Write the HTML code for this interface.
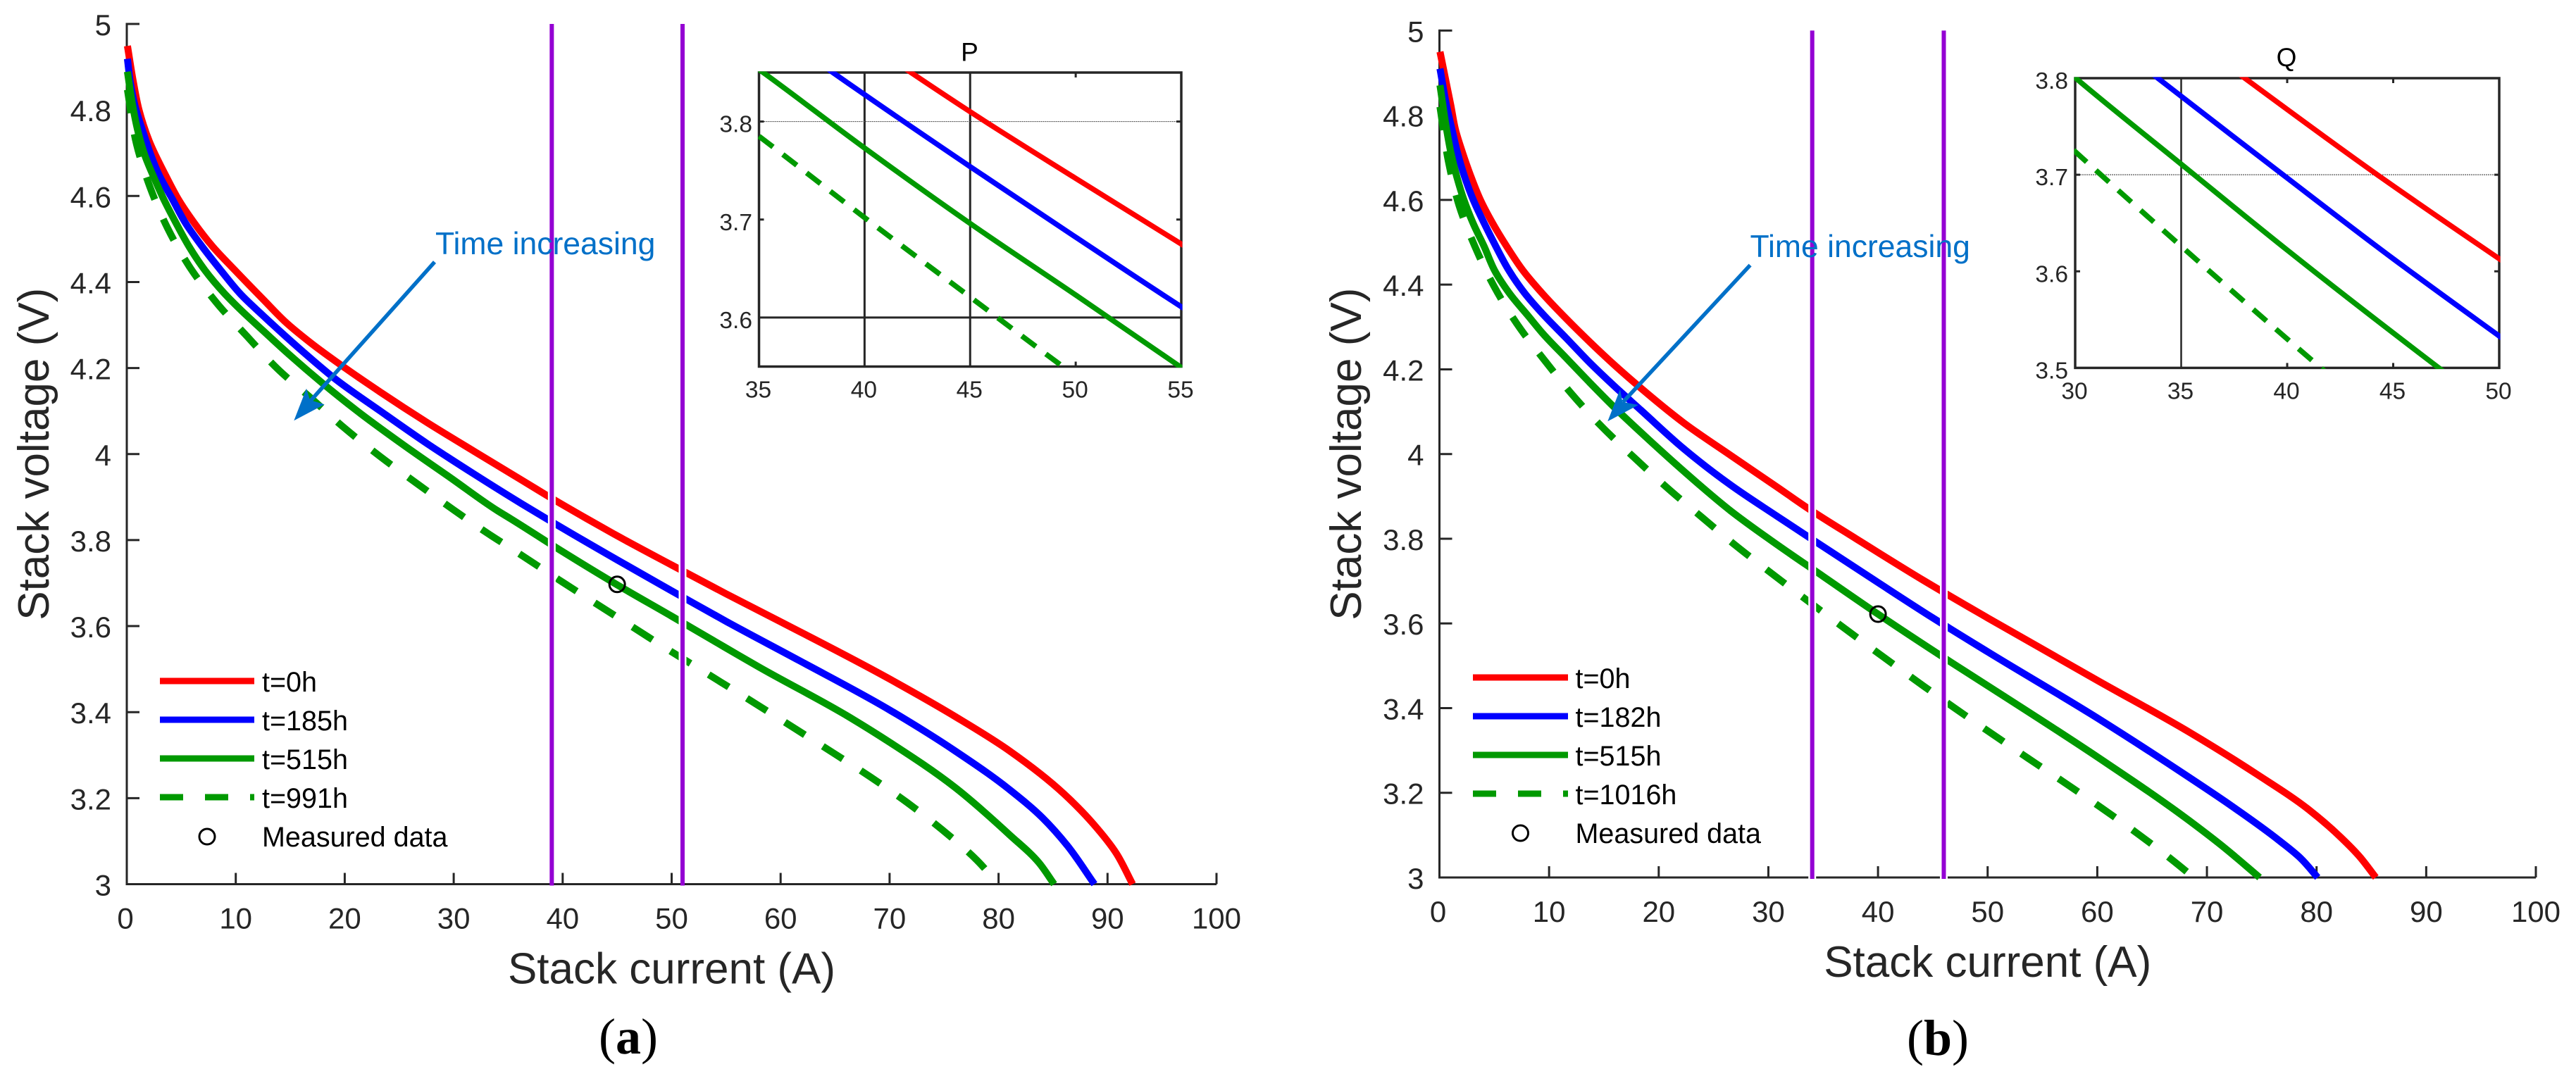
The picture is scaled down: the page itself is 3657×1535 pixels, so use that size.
<!DOCTYPE html>
<html lang="en">
<head>
<meta charset="utf-8">
<title>Stack voltage versus stack current over time</title>
<style>
html,body{margin:0;padding:0;background:#fff;}
svg{display:block;font-family:"Liberation Sans",Arial,sans-serif;}
</style>
</head>
<body>
<svg id="figure" xmlns="http://www.w3.org/2000/svg" width="3657" height="1535" viewBox="0 0 3657 1535">
  <rect x="0" y="0" width="3657" height="1535" fill="#fff"/>
  <g id="panel-a"></g>
  <g id="panel-b"></g>
  <text x="892" y="1496" text-anchor="middle" font-family="'Liberation Serif',serif" font-size="72" fill="#000">(<tspan font-weight="bold">a</tspan>)</text>
  <text x="2751" y="1498" text-anchor="middle" font-family="'Liberation Serif',serif" font-size="72" fill="#000">(<tspan font-weight="bold">b</tspan>)</text>
</svg>
<script>
// ---------- Shared axis data ----------
const mainXTicks = [0,10,20,30,40,50,60,70,80,90,100];
const mainYTicks = [3,3.2,3.4,3.6,3.8,4,4.2,4.4,4.6,4.8,5];
const mainYLabels = ['3','3.2','3.4','3.6','3.8','4','4.2','4.4','4.6','4.8','5'];

// ---------- Panel (a) data ----------
const labelsA = ['t=0h','t=185h','t=515h','t=991h'];
const currentA0 = [0.06,0.6,1.12,2.05,3.6,4.74,6.2,7.86,9.9,12.5,14.65,16.8,20.04,23.27,27.58,31.9,36.2,38.6,42.2,45,50,55,60,70,76,81,86,88.7,90.8,92.3];
const voltageA0 = [4.949,4.865,4.8,4.728,4.646,4.592,4.537,4.483,4.428,4.36,4.305,4.26,4.2,4.144,4.073,4.006,3.94,3.903,3.85,3.81,3.742,3.675,3.61,3.477,3.39,3.31,3.21,3.14,3.072,3.0];
const currentA1 = [0.06,0.32,0.75,1.4,3.02,4.2,5.39,6.9,8.6,10.4,12.5,14.65,16.8,18.96,23.27,27.58,31.9,36.2,38.5,45,50,55,61.7,70,76,81,84,86.3,88.8];
const voltageA1 = [4.919,4.865,4.81,4.756,4.646,4.592,4.537,4.483,4.428,4.373,4.322,4.272,4.224,4.178,4.1,4.024,3.953,3.885,3.85,3.754,3.682,3.611,3.52,3.405,3.31,3.22,3.155,3.09,3.0];
const currentA2 = [0.06,0.54,0.97,1.72,2.44,3.4,4.52,5.7,7.15,8.94,10.34,12.5,14.65,17.9,21.1,25.4,29.7,34.04,35.2,40,45,50,54.8,58,66.2,70,76,81,83.7,85.1];
const voltageA2 = [4.889,4.81,4.756,4.69,4.646,4.592,4.537,4.483,4.428,4.374,4.338,4.287,4.237,4.166,4.101,4.021,3.945,3.868,3.85,3.773,3.696,3.623,3.552,3.505,3.39,3.33,3.225,3.115,3.05,3.0];
const currentA3 = [0.06,0.9,2.11,3.73,5.77,8.23,11.1,13.8,17,20,23.27,26.6,29.95,33.4,35,40,45,49.2,54.5,57.8,61.3,64.9,68.2,71.6,74.8,78,80];
const voltageA3 = [4.847,4.72,4.622,4.526,4.435,4.352,4.272,4.199,4.128,4.06,3.994,3.932,3.871,3.811,3.785,3.702,3.621,3.553,3.47,3.418,3.362,3.304,3.25,3.19,3.127,3.056,3.0];
const measuredCurrentA = [45];
const measuredVoltageA = [3.697];
const markerCurrentsA = [39,51];
const insetXTicksA = [35,40,45,50,55];
const insetYTicksA = [3.6,3.7,3.8];
const insetYLabelsA = ['3.6','3.7','3.8'];
const insetSolidXA = [40,45];
const insetSolidYA = [3.6];
const insetFaintYA = [3.8];

// ---------- Panel (b) data ----------
const labelsB = ['t=0h','t=182h','t=515h','t=1016h'];
const currentB0 = [0.05,0.61,1.04,1.45,2.1,2.86,3.72,4.85,6.14,7.57,9.39,11.55,13.7,15.84,18.4,22.26,26.55,30.8,33.6,38,44.25,50,60.1,68.4,74.6,79.3,82.2,83.9,85.4];
const voltageB0 = [4.95,4.878,4.823,4.767,4.712,4.656,4.601,4.545,4.49,4.435,4.379,4.32,4.265,4.213,4.155,4.074,3.997,3.922,3.872,3.8,3.7,3.613,3.464,3.343,3.243,3.16,3.095,3.05,3.0];
const currentB1 = [0.05,0.65,1.14,1.64,2.28,3.07,4.08,5.15,6.3,7.8,9.41,11.55,13.7,15.84,18.4,22.26,26.55,30.8,33.9,39.8,45,50,60.1,68.4,72.3,76.6,78.6,80.1];
const voltageB1 = [4.91,4.823,4.767,4.712,4.656,4.601,4.545,4.49,4.435,4.379,4.331,4.274,4.216,4.163,4.103,4.013,3.927,3.853,3.8,3.7,3.613,3.533,3.375,3.236,3.168,3.087,3.044,3.0];
const currentB2 = [0.05,0.65,1.04,1.57,2.22,3.07,4.08,5,6.4,8.1,9.41,11.55,13.7,15.84,19.05,22.26,26.55,30.3,35,40,47.15,51.8,60.1,68.4,71.7,74.8];
const voltageB2 = [4.871,4.767,4.712,4.656,4.601,4.545,4.49,4.435,4.379,4.326,4.285,4.227,4.169,4.113,4.035,3.96,3.866,3.795,3.711,3.622,3.5,3.423,3.283,3.134,3.068,3.0];
const currentB3 = [0.05,0.82,1.79,3.22,4.96,7,9.84,12.09,14.87,17.83,20.87,23.97,26.97,30,35,40,41.8,47,53.6,56.9,60.4,63.6,66.9,68.8];
const voltageB3 = [4.82,4.691,4.587,4.491,4.397,4.31,4.213,4.141,4.063,3.99,3.918,3.85,3.785,3.724,3.626,3.53,3.496,3.4,3.283,3.226,3.164,3.105,3.04,3.0];
const measuredCurrentB = [40];
const measuredVoltageB = [3.622];
const markerCurrentsB = [34,46];
const insetXTicksB = [30,35,40,45,50];
const insetYTicksB = [3.5,3.6,3.7,3.8];
const insetYLabelsB = ['3.5','3.6','3.7','3.8'];
const insetSolidXB = [35];
const insetSolidYB = [];
const insetFaintYB = [3.7];

// ---------- Drawing ----------
const SVGNS = 'http://www.w3.org/2000/svg';
const AXIS = '#262626';
const PALETTE = ['#ff0000','#0000ff','#009900','#009900'];
const SERIES_NAMES = ['red','blue','green','green-dashed'];
const NOTE_BLUE = '#0070c8';

function mk(parent, tag, attrs, txt) {
  const el = document.createElementNS(SVGNS, tag);
  for (const k in attrs) el.setAttribute(k, attrs[k]);
  if (txt !== undefined) el.textContent = txt;
  parent.appendChild(el);
  return el;
}
function linearScale(d0, d1, r0, r1) {
  return v => r0 + (v - d0) * (r1 - r0) / (d1 - d0);
}
function smoothPath(xs, ys, sx, sy) {
  const p = xs.map((x, i) => [sx(x), sy(ys[i])]);
  const n = p.length;
  const h = [];
  for (let i = 0; i < n - 1; i++) h.push(Math.hypot(p[i+1][0] - p[i][0], p[i+1][1] - p[i][1]) || 1);
  const tan = p.map((q, i) => {
    if (i === 0) return [(p[1][0] - p[0][0]) / h[0], (p[1][1] - p[0][1]) / h[0]];
    if (i === n - 1) return [(p[i][0] - p[i-1][0]) / h[i-1], (p[i][1] - p[i-1][1]) / h[i-1]];
    const h0 = h[i-1], h1 = h[i], w = h0 + h1;
    return [
      ((p[i][0] - p[i-1][0]) * h1 / h0 + (p[i+1][0] - p[i][0]) * h0 / h1) / w,
      ((p[i][1] - p[i-1][1]) * h1 / h0 + (p[i+1][1] - p[i][1]) * h0 / h1) / w
    ];
  });
  let d = 'M' + p[0][0].toFixed(2) + ' ' + p[0][1].toFixed(2);
  for (let i = 0; i < n - 1; i++) {
    const s = h[i] / 3;
    const c1x = p[i][0] + tan[i][0] * s, c1y = p[i][1] + tan[i][1] * s;
    const c2x = p[i+1][0] - tan[i+1][0] * s, c2y = p[i+1][1] - tan[i+1][1] * s;
    d += 'C' + c1x.toFixed(2) + ' ' + c1y.toFixed(2) + ' ' + c2x.toFixed(2) + ' ' + c2y.toFixed(2) + ' ' + p[i+1][0].toFixed(2) + ' ' + p[i+1][1].toFixed(2);
  }
  return d;
}
function lengthAtX(path, targetX) {
  let lo = 0, hi = path.getTotalLength();
  for (let i = 0; i < 40; i++) {
    const mid = (lo + hi) / 2;
    if (path.getPointAtLength(mid).x < targetX) lo = mid; else hi = mid;
  }
  return lo;
}

function drawPanel(root, cfg) {
  const sx = linearScale(0, 100, cfg.x0, cfg.x100);
  const sy = linearScale(3, 5, cfg.y3, cfg.y5);

  // axes
  const axisX = mk(root, 'line', {x1: cfg.x0, x2: cfg.x100, y1: cfg.y3, y2: cfg.y3, stroke: AXIS, 'stroke-width': 3});
  
  
  const axisY = mk(root, 'line', {x1: cfg.x0, x2: cfg.x0, y1: cfg.y5 - 1.5, y2: cfg.y3 + 1.5, stroke: AXIS, 'stroke-width': 3});
  
  

  mainXTicks.forEach(t => {
    if (t > 0) {
      const tk = mk(root, 'line', {x1: sx(t), x2: sx(t), y1: cfg.y3, y2: cfg.y3 - 16, stroke: AXIS, 'stroke-width': 3});
      
      
    }
    const lb = mk(root, 'text', {x: sx(t) - (t === 0 ? 2 : 0), y: cfg.y3 + 63, 'text-anchor': 'middle', 'font-size': 42, fill: AXIS}, String(t));
    
    
  });
  mainYTicks.forEach((t, i) => {
    if (t > 3) {
      const tk = mk(root, 'line', {x1: cfg.x0, x2: cfg.x0 + 18, y1: sy(t), y2: sy(t), stroke: AXIS, 'stroke-width': 3});
      
      
    }
    const lb = mk(root, 'text', {x: cfg.x0 - 22, y: sy(t) + 16, 'text-anchor': 'end', 'font-size': 42, fill: AXIS}, mainYLabels[i]);
    
    
  });
  const xt = mk(root, 'text', {x: (cfg.x0 + cfg.x100) / 2, y: cfg.y3 + 141, 'text-anchor': 'middle', 'font-size': 62, fill: AXIS}, 'Stack current (A)');
  
  
  const ytY = (cfg.y5 + cfg.y3) / 2;
  const yt = mk(root, 'text', {x: cfg.yTitleX, y: ytY, 'text-anchor': 'middle', 'font-size': 62, fill: AXIS, transform: 'rotate(-90 ' + cfg.yTitleX + ' ' + ytY + ')'}, 'Stack voltage (V)');
  
  

  // main curves
  cfg.series.forEach((s, i) => {
    const attrs = {d: smoothPath(s.x, s.y, sx, sy), fill: 'none', stroke: PALETTE[i], 'stroke-width': 10, 'stroke-linejoin': 'round'};
    if (i === 3) { attrs['stroke-dasharray'] = '33.5 30.3'; attrs['stroke-dashoffset'] = cfg.dashOffset; }
    const c = mk(root, 'path', attrs);
    
    
  });

  // operating-range markers
  cfg.markers.forEach(m => {
    const halo = mk(root, 'line', {x1: sx(m), x2: sx(m), y1: cfg.y5, y2: cfg.y3 + cfg.haloExtra, stroke: '#fff', 'stroke-width': 11});
    
    
    const pl = mk(root, 'line', {x1: sx(m), x2: sx(m), y1: cfg.y5, y2: cfg.y3 + 2, stroke: '#9400d3', 'stroke-width': 6});
    
    
  });

  // measured data point
  cfg.measuredX.forEach((mx, i) => {
    const o = mk(root, 'circle', {cx: sx(mx), cy: sy(cfg.measuredY[i]), r: 11, fill: 'none', stroke: '#000', 'stroke-width': 3});
    
    
  });

  // legend
  const lg = mk(root, 'g', {});
  
  
  cfg.labels.forEach((label, i) => {
    const ly = cfg.legendY + i * 55;
    const attrs = {x1: cfg.legendX0, x2: cfg.legendX1, y1: ly, y2: ly, stroke: PALETTE[i], 'stroke-width': 9};
    if (i === 3) attrs['stroke-dasharray'] = '33 31';
    const ln = mk(lg, 'line', attrs);
    
    
    const tx = mk(lg, 'text', {x: cfg.legendTextX, y: ly + 15, 'font-size': 39.5, fill: '#000'}, label);
    
    
  });
  const lo = mk(lg, 'circle', {cx: (cfg.legendX0 + cfg.legendX1) / 2, cy: cfg.legendY + 221, r: 11, fill: 'none', stroke: '#000', 'stroke-width': 3});
  
  
  const lt = mk(lg, 'text', {x: cfg.legendTextX, y: cfg.legendY + 235, 'font-size': 39.5, fill: '#000'}, 'Measured data');
  
  

  // annotation
  const ar = cfg.arrow;
  const sh = mk(root, 'line', {x1: ar.x1, y1: ar.y1, x2: ar.nx, y2: ar.ny, stroke: NOTE_BLUE, 'stroke-width': 5.5});
  
  
  const hd = mk(root, 'polygon', {points: [ar.tip, ar.b1, ar.n, ar.b2].map(q => q.join(',')).join(' '), fill: NOTE_BLUE});
  
  
  const at = mk(root, 'text', {x: cfg.noteX, y: cfg.noteY, 'font-size': 44.5, fill: NOTE_BLUE}, 'Time increasing');
  
  

  // inset
  const ins = cfg.inset;
  const ix = linearScale(ins.xd0, ins.xd1, ins.left, ins.right);
  const iy = linearScale(ins.yd0, ins.yd1, ins.bottom, ins.top);
  const ig = mk(root, 'g', {});
  
  
  const clipId = 'clip-' + ins.title;
  const defs = mk(ig, 'defs', {});
  const cp = mk(defs, 'clipPath', {id: clipId});
  mk(cp, 'rect', {x: ins.left - 1.5, y: ins.top - 1.5, width: ins.right - ins.left + 3, height: ins.bottom - ins.top + 3});

  ins.solidX.forEach(v => {
    const g = mk(ig, 'line', {x1: ix(v), x2: ix(v), y1: ins.top, y2: ins.bottom, stroke: AXIS, 'stroke-width': ins.solidW});
    
    
  });
  ins.solidY.forEach(v => {
    const g = mk(ig, 'line', {x1: ins.left, x2: ins.right, y1: iy(v), y2: iy(v), stroke: AXIS, 'stroke-width': ins.solidW});
    
    
  });
  ins.faintY.forEach(v => {
    const g = mk(ig, 'line', {x1: ins.left + 4, x2: ins.right - 6, y1: iy(v), y2: iy(v), stroke: '#555', 'stroke-width': 1.2, 'stroke-dasharray': '2 1'});
    
    
  });
  ins.xTicks.forEach(t => {
    if (t > ins.xd0 && t < ins.xd1 && ins.solidX.indexOf(t) < 0) {
      [[ins.bottom, ins.bottom - 7], [ins.top, ins.top + 7]].forEach(e => {
        const tk = mk(ig, 'line', {x1: ix(t), x2: ix(t), y1: e[0], y2: e[1], stroke: AXIS, 'stroke-width': 3});
        
        
      });
    }
    const lb = mk(ig, 'text', {x: ix(t) - 1, y: ins.bottom + 44, 'text-anchor': 'middle', 'font-size': 33.5, fill: AXIS}, String(t));
    
    
  });
  ins.yTicks.forEach((t, i) => {
    if (t > ins.yd0 && t < ins.yd1 && ins.solidY.indexOf(t) < 0) {
      [[ins.left, ins.left + 7], [ins.right, ins.right - 7]].forEach(e => {
        const tk = mk(ig, 'line', {x1: e[0], x2: e[1], y1: iy(t), y2: iy(t), stroke: AXIS, 'stroke-width': 3});
        
        
      });
    }
    const lb = mk(ig, 'text', {x: ins.labelRight, y: iy(t) + 15, 'text-anchor': 'end', 'font-size': 33.5, fill: AXIS}, ins.yLabels[i]);
    
    
  });
  const box = mk(ig, 'rect', {x: ins.left, y: ins.top, width: ins.right - ins.left, height: ins.bottom - ins.top, fill: 'none', stroke: AXIS, 'stroke-width': 3.5});
  
  
  const curves = mk(ig, 'g', {'clip-path': 'url(#' + clipId + ')'});
  
  
  cfg.series.forEach((s, i) => {
    const attrs = {d: smoothPath(s.x, s.y, ix, iy), fill: 'none', stroke: PALETTE[i], 'stroke-width': 7.5};
    const c = mk(curves, 'path', attrs);
    
    
    if (i === 3) {
      c.setAttribute('stroke-dasharray', '25 17.6');
      c.setAttribute('stroke-dashoffset', String(-lengthAtX(c, ins.left) + ins.dashPhase));
    }
  });
  const tt = mk(ig, 'text', {x: ins.titleX, y: ins.titleY, 'text-anchor': 'middle', 'font-size': 37, fill: '#000'}, ins.title);
  
  
}

drawPanel(document.getElementById('panel-a'), {
  x0: 180, x100: 1727, y3: 1255.5, y5: 34, yTitleX: 69, dashOffset: 0, haloExtra: -2,
  labels: labelsA, markers: markerCurrentsA,
  measuredX: measuredCurrentA, measuredY: measuredVoltageA,
  series: [{x: currentA0, y: voltageA0},{x: currentA1, y: voltageA1},{x: currentA2, y: voltageA2},{x: currentA3, y: voltageA3}],
  legendX0: 227, legendX1: 361, legendY: 967, legendTextX: 372,
  noteX: 618, noteY: 361,
  arrow: {x1: 617, y1: 372, nx: 441, ny: 569, tip: [417.3,597.3], b1: [435,551.7], n: [440,568], b2: [460.7,574.3]},
  inset: {title: 'P', left: 1077.5, right: 1677, top: 103, bottom: 520.5, xd0: 35, xd1: 55, yd0: 3.55, yd1: 3.85,
    xTicks: insetXTicksA, yTicks: insetYTicksA, yLabels: insetYLabelsA, solidX: insetSolidXA, solidY: insetSolidYA, faintY: insetFaintYA,
    solidW: 3, labelRight: 1068, titleX: 1376.5, titleY: 86.5, dashPhase: 0}
});
drawPanel(document.getElementById('panel-b'), {
  x0: 2043.5, x100: 3600, y3: 1246, y5: 43.4, yTitleX: 1932, dashOffset: 0, haloExtra: 3,
  labels: labelsB, markers: markerCurrentsB,
  measuredX: measuredCurrentB, measuredY: measuredVoltageB,
  series: [{x: currentB0, y: voltageB0},{x: currentB1, y: voltageB1},{x: currentB2, y: voltageB2},{x: currentB3, y: voltageB3}],
  legendX0: 2091, legendX1: 2226, legendY: 962, legendTextX: 2236.5,
  noteX: 2484.5, noteY: 365,
  arrow: {x1: 2484.6, y1: 376.5, nx: 2304, ny: 571, tip: [2282.3,598.3], b1: [2300,552.7], n: [2303.3,570.7], b2: [2326,575]},
  inset: {title: 'Q', left: 2946, right: 3548, top: 111, bottom: 522.4, xd0: 30, xd1: 50, yd0: 3.5, yd1: 3.8,
    xTicks: insetXTicksB, yTicks: insetYTicksB, yLabels: insetYLabelsB, solidX: insetSolidXB, solidY: insetSolidYB, faintY: insetFaintYB,
    solidW: 2.5, labelRight: 2936, titleX: 3246, titleY: 93.8, dashPhase: 3}
});
</script>
</body>
</html>
